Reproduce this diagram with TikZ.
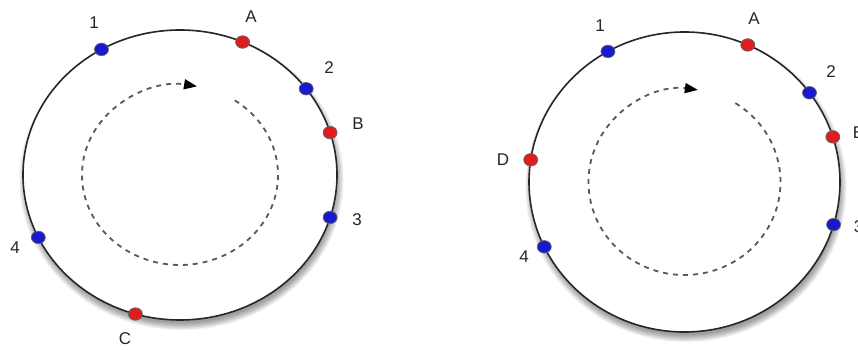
\documentclass[tikz,border=0pt]{standalone}
\usepackage{fontspec}
\setmainfont{Liberation Sans}
\usetikzlibrary{arrows.meta,calc,shapes.geometric}
\definecolor{dotred}{RGB}{222,30,30}
\definecolor{dotblue}{RGB}{25,25,205}
\begin{document}
\begin{tikzpicture}[x=1pt,y=1pt,
  ring/.style={draw=black!85, line width=1.6pt, fill=white},
  dot/.style={ellipse, draw=black!60, line width=0.7pt, minimum width=14pt, minimum height=12.5pt, inner sep=0pt},
  reddot/.style={dot, fill=dotred},
  bluedot/.style={dot, fill=dotblue},
  lbl/.style={font=\fontsize{17}{20}\selectfont, inner sep=0pt, text=black!85},
  flow/.style={dash pattern=on 5pt off 5pt, line width=1.8pt, draw=black!65,
    -{Triangle[length=13pt,width=10pt,color=black]}}]
\useasboundingbox (0,0) rectangle (858,350);
\fill[white] (0,0) rectangle (858,350);
\coordinate (lc) at (180,175);
\coordinate (rc) at (684.5,168);
% shadows
\foreach \i in {0,...,9} {
  \fill[black, opacity=0.045] ($(lc)+(1.5,-5)$) ellipse [x radius=155+\i*0.8, y radius=143+\i*0.8];
  \fill[black, opacity=0.045] ($(rc)+(1.5,-5)$) ellipse [x radius=153.5+\i*0.8, y radius=148+\i*0.8];
}
% rings
\draw[ring] (lc) ellipse [x radius=157, y radius=145];
\draw[ring] (rc) ellipse [x radius=155.5, y radius=150];
% dashed rotation arrows
\draw[flow] ($(lc)+(56:98 and 90)$) arc [start angle=56, end angle=-280, x radius=98, y radius=90];
\draw[flow] ($(rc)+(58:96 and 93)$) arc [start angle=58, end angle=-278, x radius=96, y radius=93];
% left ring dots
\node[bluedot] (l1) at ($(lc)+(120:157 and 145)$) {};
\node[reddot]  (lA) at ($(lc)+(66.5:157 and 145)$) {};
\node[bluedot] (l2) at ($(lc)+(36.5:157 and 145)$) {};
\node[reddot]  (lB) at ($(lc)+(17:157 and 145)$) {};
\node[bluedot] (l3) at ($(lc)+(-17:157 and 145)$) {};
\node[bluedot] (l4) at ($(lc)+(205.5:157 and 145)$) {};
\node[reddot]  (lC) at ($(lc)+(253.5:157 and 145)$) {};
% left labels
\node[lbl] (tl1) at (94,327) {1};
\node[lbl] (tlA) at (251,333) {A};
\node[lbl] (tl2) at (329,282) {2};
\node[lbl] (tlB) at (358,226) {B};
\node[lbl] (tl3) at (357,130) {3};
\node[lbl] (tl4) at (15,102) {4};
\node[lbl] (tlC) at (125,11) {C};
% right ring dots
\node[bluedot] (r1) at ($(rc)+(119.5:155.5 and 150)$) {};
\node[reddot]  (rA) at ($(rc)+(66:155.5 and 150)$) {};
\node[bluedot] (r2) at ($(rc)+(36.5:155.5 and 150)$) {};
\node[reddot]  (rB) at ($(rc)+(17.5:155.5 and 150)$) {};
\node[bluedot] (r3) at ($(rc)+(-16.5:155.5 and 150)$) {};
\node[reddot]  (rD) at ($(rc)+(171.5:155.5 and 150)$) {};
\node[bluedot] (r4) at ($(rc)+(205.6:155.5 and 150)$) {};
% right labels (cut off at the right edge, as in the reference)
\node[lbl] (tr1) at (600,324) {1};
\node[lbl] (trA) at (754,331) {A};
\node[lbl] (tr2) at (831,278) {2};
\node[lbl] (trB) at (858.5,217) {B};
\node[lbl] (tr3) at (858.5,123) {3};
\node[lbl] (trD) at (503,190) {D};
\node[lbl] (tr4) at (524,93) {4};
\end{tikzpicture}
\end{document}
